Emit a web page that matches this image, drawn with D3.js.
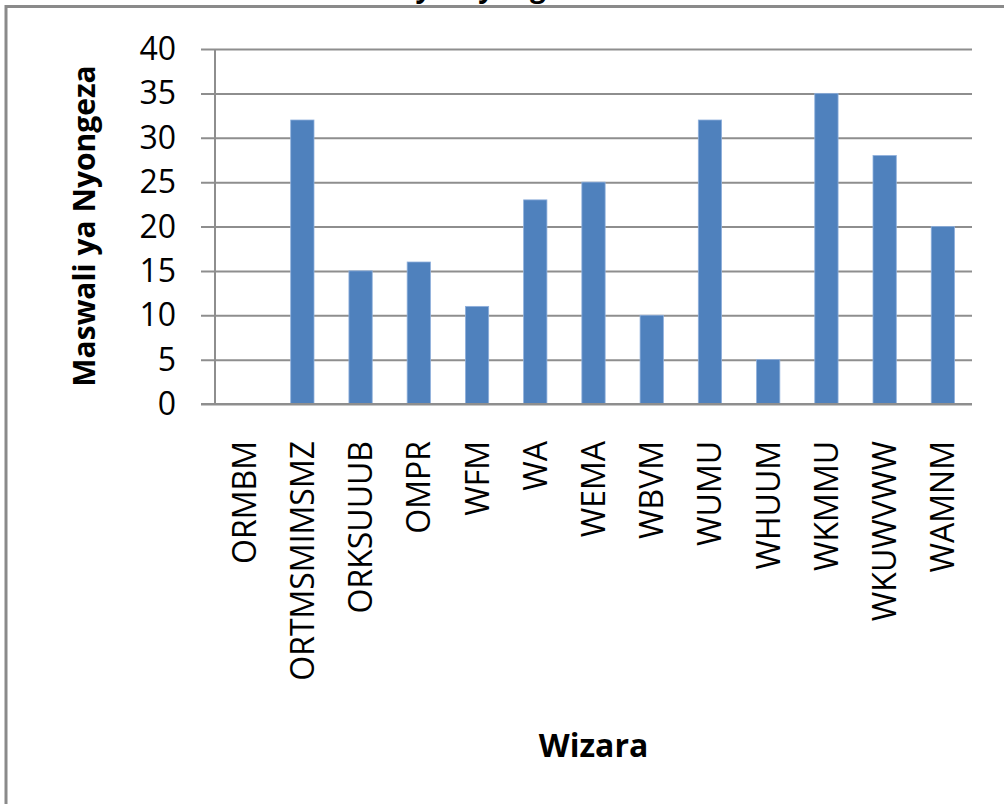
<!DOCTYPE html>
<html>
<head>
<meta charset="utf-8">
<script src="https://cdn.jsdelivr.net/npm/d3@7"></script>
<style>
  html, body { margin: 0; padding: 0; background: #fff; }
  svg { display: block; }
</style>
</head>
<body>
<svg id="chart" width="1004" height="804"></svg>
<script>
const categories = ["ORMBM","ORTMSMIMSMZ","ORKSUUUB","OMPR","WFM","WA","WEMA","WBVM","WUMU","WHUUM","WKMMU","WKUWVWW","WAMNM"];
const values = [0, 32, 15, 16, 11, 23, 25, 10, 32, 5, 35, 28, 20];
const yTicks = [0, 5, 10, 15, 20, 25, 30, 35, 40];
const titleText = "Maswali ya Nyongeza";
const yTitle = "Maswali ya Nyongeza";
const xTitle = "Wizara";

const svg = d3.select("#chart");
const W = 1004, H = 804;
const plot = { left: 215, right: 972, top: 49, bottom: 404 };
const font = "'Open Sans', 'Liberation Sans', sans-serif";
const gridColor = "#8e8e8e";

// frame
svg.append("rect")
  .attr("x", 6).attr("y", 6.5)
  .attr("width", W + 20).attr("height", H + 20)
  .attr("fill", "#fff")
  .attr("stroke", "#8a8a8a").attr("stroke-width", 3);

// cut-off title above frame
svg.append("text")
  .attr("x", 443).attr("y", -3)
  .attr("text-anchor", "middle")
  .attr("font-family", font).attr("font-weight", "bold")
  .attr("font-size", 28).attr("fill", "#000")
  .text(titleText);

const x = d3.scaleBand().domain(categories).range([plot.left, plot.right]).paddingInner(0.6).paddingOuter(0.3);
const y = d3.scaleLinear().domain([0, 40]).range([plot.bottom, plot.top]);

// gridlines + y axis via d3.axisLeft
const yAxis = d3.axisLeft(y).tickValues(yTicks).tickSize(0).tickPadding(0).tickFormat(d3.format("d"));
const gy = svg.append("g").attr("transform", `translate(${plot.left},0)`).call(yAxis);
gy.select(".domain").remove();
gy.selectAll(".tick line").remove();
gy.selectAll(".tick").append("line")
  .attr("x1", -14).attr("x2", plot.right - plot.left)
  .attr("stroke", gridColor).attr("stroke-width", 2);
gy.selectAll(".tick text")
  .attr("x", 176 - plot.left).attr("dy", "0.33em")
  .attr("text-anchor", "end")
  .attr("font-family", font).attr("font-size", 32).attr("fill", "#000");

// y axis line
svg.append("line")
  .attr("x1", plot.left).attr("x2", plot.left)
  .attr("y1", plot.top).attr("y2", plot.bottom)
  .attr("stroke", gridColor).attr("stroke-width", 2);

// bars
svg.append("g").selectAll("rect").data(values).join("rect")
  .attr("x", (d, i) => x(categories[i]))
  .attr("width", x.bandwidth())
  .attr("y", d => y(d))
  .attr("height", d => y(0) - y(d))
  .attr("fill", "#4F81BD")
  .attr("stroke", "#8fb0dc").attr("stroke-width", 0.8);

// x axis line
svg.append("line")
  .attr("x1", plot.left - 14).attr("x2", plot.right)
  .attr("y1", plot.bottom).attr("y2", plot.bottom)
  .attr("stroke", gridColor).attr("stroke-width", 2);

// x category labels
const xAxis = d3.axisBottom(x).tickSize(0).tickPadding(0);
const gx = svg.append("g").attr("transform", `translate(0,${plot.bottom})`).call(xAxis);
gx.select(".domain").remove();
gx.selectAll(".tick text")
  .attr("transform", "translate(0,37) rotate(-90)")
  .attr("x", 0).attr("y", 0).attr("dy", "0.36em")
  .attr("text-anchor", "end")
  .attr("font-family", font).attr("font-size", 32).attr("fill", "#000");

// axis titles
svg.append("text")
  .attr("transform", `translate(84,226) rotate(-90)`)
  .attr("dy", "0.36em")
  .attr("text-anchor", "middle")
  .attr("font-family", font).attr("font-weight", "bold")
  .attr("font-size", 30).attr("fill", "#000")
  .text(yTitle);

svg.append("text")
  .attr("x", (plot.left + plot.right) / 2).attr("y", 757)
  .attr("text-anchor", "middle")
  .attr("font-family", font).attr("font-weight", "bold")
  .attr("font-size", 32).attr("fill", "#000")
  .text(xTitle);
</script>
</body>
</html>
